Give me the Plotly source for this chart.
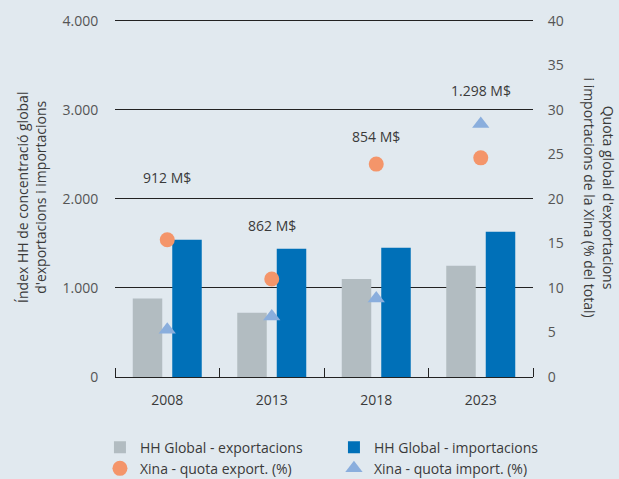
import plotly.graph_objects as go

years = ["2008", "2013", "2018", "2023"]
hh_export = [880, 720, 1100, 1250]
hh_import = [1540, 1440, 1450, 1630]
china_export_share = [15.4, 11.0, 23.9, 24.6]
china_import_share = [5.3, 6.8, 8.8, 28.4]
trade_labels = ["912 M$", "862 M$", "854 M$", "1.298 M$"]
trade_label_y = [2236, 1700, 2700, 3217]
left_ticks = [0, 1000, 2000, 3000, 4000]
left_ticktext = ["0", "1.000", "2.000", "3.000", "4.000"]
right_ticks = [0, 5, 10, 15, 20, 25, 30, 35, 40]

FONT = "Open Sans"
TXT = "#3a3a3a"
BG = "#e1e9ef"
CLEAR = "rgba(0,0,0,0)"

xpos = list(range(len(years)))
boundaries = [i - 0.5 for i in range(len(years) + 1)]

fig = go.Figure()
fig.add_trace(go.Bar(x=xpos, y=hh_export, name="HH Global - exportacions",
                     marker=dict(color="#b2bcc1", line=dict(width=0))))
fig.add_trace(go.Bar(x=xpos, y=hh_import, name="HH Global - importacions",
                     marker=dict(color="#0070b8", line=dict(width=0))))
fig.add_trace(go.Scatter(x=xpos, y=china_export_share, yaxis="y2", mode="markers",
                         name="Xina - quota export. (%)",
                         marker=dict(symbol="circle", size=15, color="#f4956a")))
fig.add_trace(go.Scatter(x=xpos, y=china_import_share, yaxis="y2", mode="markers",
                         name="Xina - quota import. (%)",
                         marker=dict(symbol="triangle-up", size=15, color="#8aaedd")))

for xp, txt, yy in zip(xpos, trade_labels, trade_label_y):
    fig.add_annotation(x=xp, y=yy, xref="x", yref="y", text=txt, showarrow=False,
                       font=dict(family=FONT, size=14, color=TXT))

fig.add_annotation(xref="paper", yref="paper", x=-0.2, y=0.5, xanchor="center", yanchor="middle",
                   text="Índex HH de concentració global<br>d'exportacions i importacions",
                   textangle=-90, showarrow=False,
                   font=dict(family=FONT, size=14, color=TXT))
fig.add_annotation(xref="paper", yref="paper", x=1.158, y=0.5, xanchor="center", yanchor="middle",
                   text="Quota global d'exportacions<br>i importacions de la Xina (% del total)",
                   textangle=90, showarrow=False,
                   font=dict(family=FONT, size=14, color=TXT))

fig.update_layout(
    width=619, height=479,
    margin=dict(l=115, r=86, t=18, b=102, autoexpand=False),
    paper_bgcolor=BG, plot_bgcolor=BG,
    font=dict(family=FONT, size=14, color=TXT),
    barmode="group", bargap=0.244, bargroupgap=0.253,
    showlegend=True,
    legend=dict(orientation="h", x=-0.036, xanchor="left", y=-0.152, yanchor="top",
                entrywidth=189, entrywidthmode="pixels", traceorder="normal",
                font=dict(family=FONT, size=14, color=TXT), bgcolor=CLEAR),
    xaxis=dict(range=[-0.5, len(years) - 0.5], tickvals=xpos, ticktext=years,
               showline=True, linecolor="#222", linewidth=1, zeroline=False,
               ticks="outside", ticklen=10, tickcolor=CLEAR, showgrid=False,
               minor=dict(tickvals=boundaries, ticks="inside", ticklen=9,
                          tickcolor="#222", showgrid=False),
               tickfont=dict(family=FONT, size=14, color=TXT)),
    yaxis=dict(range=[0, 4030], tickvals=left_ticks, ticktext=left_ticktext,
               showgrid=True, gridcolor="#222", gridwidth=1, zeroline=False,
               showline=False, ticks="outside", ticklen=13, tickcolor=CLEAR,
               tickfont=dict(family=FONT, size=14, color="#555")),
    yaxis2=dict(range=[0, 40.3], tickvals=right_ticks, overlaying="y", side="right",
                showgrid=False, zeroline=False, showline=False,
                ticks="outside", ticklen=11, tickcolor=CLEAR,
                tickfont=dict(family=FONT, size=14, color="#555")),
)

fig.write_html("out.html", config={"displayModeBar": False},
               post_script="document.body.style.margin='0';document.body.style.padding='0';")
